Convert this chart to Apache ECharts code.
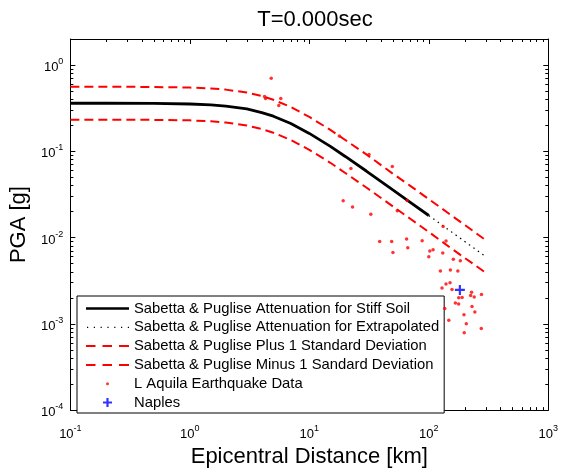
<!DOCTYPE html>
<html><head><meta charset="utf-8">
<script src="https://cdn.jsdelivr.net/npm/echarts@6/dist/echarts.min.js"></script>
<style>html,body{margin:0;padding:0;background:#fff}#c{width:561px;height:473px}</style>
</head><body><div id="c"></div>
<script>
const FONT = 'Liberation Sans';
const titleText = 'T=0.000sec';
const xName = 'Epicentral Distance [km]';
const yName = 'PGA [g]';
const xTicks = [0.1, 1, 10, 100, 1000];
const xTickExp = ['-1', '0', '1', '2', '3'];
const yTicks = [0.0001, 0.001, 0.01, 0.1, 1];
const yTickExp = ['-4', '-3', '-2', '-1', '0'];
const minorMantissa = [2, 3, 4, 5, 6, 7, 8, 9];

const seriesNames = [
  'Sabetta & Puglise Attenuation for Stiff Soil',
  'Sabetta & Puglise Attenuation for Extrapolated',
  'Sabetta & Puglise Plus 1 Standard Deviation',
  'Sabetta & Puglise Minus 1 Sandard Deviation',
  'L Aquila Earthquake Data',
  'Naples'
];

// Stiff-soil attenuation curve
const soilR   = [0.1, 0.2, 0.5, 1, 1.5, 2, 3, 4, 5, 7, 10, 15, 20, 30, 50, 70, 100];
const soilPGA = [0.36, 0.36, 0.358, 0.353, 0.345, 0.334, 0.309, 0.281, 0.255, 0.21, 0.161, 0.114, 0.087, 0.059, 0.0356, 0.0256, 0.018];
// Extrapolated part
const extR   = [100, 150, 200, 300];
const extPGA = [0.018, 0.012, 0.009, 0.006];
// +/- 1 standard deviation
const sdR      = [0.1, 0.2, 0.5, 1, 1.5, 2, 3, 4, 5, 7, 10, 15, 20, 30, 50, 70, 100, 150, 200, 300];
const plusPGA  = [0.56, 0.56, 0.556, 0.547, 0.535, 0.518, 0.479, 0.436, 0.395, 0.326, 0.25, 0.177, 0.135, 0.092, 0.055, 0.0397, 0.0279, 0.0186, 0.014, 0.0093];
const minusPGA = [0.232, 0.232, 0.231, 0.228, 0.2225, 0.215, 0.199, 0.181, 0.164, 0.135, 0.104, 0.0735, 0.056, 0.038, 0.023, 0.0165, 0.0116, 0.0077, 0.0058, 0.0039];

// L'Aquila earthquake records [distance km, PGA g]
const quakeR = [4.80, 4.22, 4.30, 5.77, 5.55,
  17.8, 31.6, 49.5, 22.3, 65.9, 54.5, 131.8,
  19.2, 23.0, 32.7,
  38.8, 48.9, 65.2, 88,
  50.1, 66.7, 102, 108.6, 100,
  139.4, 130.9, 160.5, 183.6,
  125.1, 151.6, 175,
  129, 139.4, 150.6, 156.4,
  178, 190, 166.9, 177.8,
  228, 224, 240, 276,
  136, 147, 197, 230, 243, 206, 198, 275];
const quakePGA = [0.70, 0.43, 0.41, 0.41, 0.34,
  0.150, 0.0916, 0.0667, 0.0633, 0.0269, 0.0205, 0.0134,
  0.0267, 0.0226, 0.0186,
  0.0090, 0.0090, 0.0096, 0.0092,
  0.0067, 0.0076, 0.0070, 0.0072, 0.0060,
  0.0091, 0.0066, 0.0056, 0.0054,
  0.0041, 0.0042, 0.0041,
  0.0026, 0.0029, 0.0030, 0.0025,
  0.00200, 0.00202, 0.00174, 0.00170,
  0.00232, 0.00213, 0.00205, 0.00219,
  0.0015, 0.0011, 0.00127, 0.00159, 0.00137, 0.0010, 0.00079, 0.00088];
const naplesR = [182];
const naplesPGA = [0.00247];

const zip = (a, b) => a.map((v, i) => [v, b[i]]);
const minorOf = (decades) => { const out = []; decades.forEach(d => minorMantissa.forEach(m => out.push(+(d * m).toPrecision(6)))); return out; };
const xMinor = minorOf([0.1, 1, 10, 100]);
const yMinor = minorOf([0.0001, 0.001, 0.01, 0.1, 1]).filter(v => v <= 2);

const rich = {
  b: { fontFamily: FONT, fontSize: 13, color: '#000', padding: [5, 0, 0, 0] },
  s: { fontFamily: FONT, fontSize: 9, color: '#000', padding: [0, 0, 7, 0] }
};
const fmt = (ticks, exps) => (value) => {
  const lv = Math.log10(value);
  const i = ticks.findIndex(t => Math.abs(Math.log10(t) - lv) < 1e-6);
  return i < 0 ? '' : '{b|10}{s|' + exps[i] + '}';
};

function axis(dim, pos, ticks, len, showLine, label) {
  const isX = dim === 'x';
  const a = {
    type: 'log', logBase: 10,
    min: isX ? 0.1 : 0.0001, max: isX ? 1000 : 2,
    position: pos,
    axisLine: { show: showLine, onZero: false, lineStyle: { color: '#000', width: 1 } },
    axisTick: { show: true, inside: true, length: len, customValues: ticks, lineStyle: { color: '#000', width: 1 } },
    minorTick: { show: false },
    splitLine: { show: false },
    axisLabel: { show: false }
  };
  if (label) {
    a.axisLabel = {
      show: true, customValues: ticks, margin: isX ? 13 : 7,
      formatter: isX ? fmt(xTicks, xTickExp) : fmt(yTicks, yTickExp),
      rich: rich
    };
    a.name = isX ? xName : yName;
    a.nameLocation = 'middle';
    a.nameGap = isX ? 24 : 32;
    a.nameTextStyle = { fontFamily: FONT, fontSize: 22, color: '#000' };
  }
  return a;
}

const BOX = 'path://M0,0M43,14';
const solidIcon = BOX + 'M0,5.7h43v2.6h-43z';
const dottedIcon = BOX + 'M1,6.4h1.2v1.2h-1.2zM7.8,6.4h1.2v1.2h-1.2zM14.6,6.4h1.2v1.2h-1.2zM21.4,6.4h1.2v1.2h-1.2zM28.2,6.4h1.2v1.2h-1.2zM35,6.4h1.2v1.2h-1.2zM41.8,6.4h1.2v1.2h-1.2z';
const dashedIcon = BOX + 'M0,6h9.5v2h-9.5zM16.5,6h9.5v2h-9.5zM33,6h10v2h-10z';
const dotIcon = BOX + 'M20,7a1.5,1.5 0 1,0 3,0a1.5,1.5 0 1,0 -3,0z';
const plusIcon = BOX + 'M20.4,2.5h2.2v3.4h3.4v2.2h-3.4v3.4h-2.2v-3.4h-3.4v-2.2h3.4z';
const plusSymbol = 'path://M4,0h2.2v4h4v2.2h-4v4h-2.2v-4h-4v-2.2h4z';

const chart = echarts.init(document.getElementById('c'), null, { renderer: 'canvas' });
chart.setOption({
  animation: false,
  backgroundColor: '#fff',
  title: {
    text: titleText, left: 310, top: 4, textAlign: 'center',
    textStyle: { fontFamily: FONT, fontSize: 22, fontWeight: 'normal', color: '#000' }
  },
  grid: { left: 70, right: 11, top: 39, bottom: 59, containLabel: false },
  xAxis: [
    axis('x', 'bottom', xTicks, 5, true, true),
    axis('x', 'top', xTicks, 5, true, false),
    axis('x', 'bottom', xMinor, 3, false, false),
    axis('x', 'top', xMinor, 3, false, false)
  ],
  yAxis: [
    axis('y', 'left', yTicks, 5, true, true),
    axis('y', 'right', yTicks, 5, true, false),
    axis('y', 'left', yMinor, 3, false, false),
    axis('y', 'right', yMinor, 3, false, false)
  ],
  legend: {
    data: [
      { name: seriesNames[0], icon: solidIcon },
      { name: seriesNames[1], icon: dottedIcon },
      { name: seriesNames[2], icon: dashedIcon },
      { name: seriesNames[3], icon: dashedIcon },
      { name: seriesNames[4], icon: dotIcon },
      { name: seriesNames[5], icon: plusIcon }],
    orient: 'vertical', left: 77, top: 296,
    itemWidth: 43, itemHeight: 14, itemGap: 3.8,
    padding: [5, 5, 3, 9],
    borderColor: '#000', borderWidth: 1, backgroundColor: '#fff',
    selectedMode: false,
    itemStyle: { borderWidth: 0 },
    textStyle: { fontFamily: FONT, fontSize: 14.8, color: '#000' }
  },
  series: [
    { name: seriesNames[0], type: 'line', data: zip(soilR, soilPGA), symbol: 'none',
      lineStyle: { color: '#000', width: 2.8 }, itemStyle: { color: '#000' }, z: 4 },
    { name: seriesNames[1], type: 'line', data: zip(extR, extPGA), symbol: 'none',
      lineStyle: { color: '#000', width: 1.2, type: [1.5, 4] }, itemStyle: { color: '#000' }, z: 4 },
    { name: seriesNames[2], type: 'line', data: zip(sdR, plusPGA), symbol: 'none',
      lineStyle: { color: '#ff0000', width: 2, type: [9, 5] }, itemStyle: { color: '#ff0000' }, z: 3 },
    { name: seriesNames[3], type: 'line', data: zip(sdR, minusPGA), symbol: 'none',
      lineStyle: { color: '#ff0000', width: 2, type: [9, 5] }, itemStyle: { color: '#ff0000' }, z: 3 },
    { name: seriesNames[4], type: 'scatter', data: zip(quakeR, quakePGA), symbol: 'circle', symbolSize: 3.5,
      itemStyle: { color: '#ff0000' }, z: 5 },
    { name: seriesNames[5], type: 'scatter', data: zip(naplesR, naplesPGA), symbol: plusSymbol, symbolSize: 10,
      itemStyle: { color: '#0000ff' }, z: 6 }
  ]
});
</script>
</body></html>
